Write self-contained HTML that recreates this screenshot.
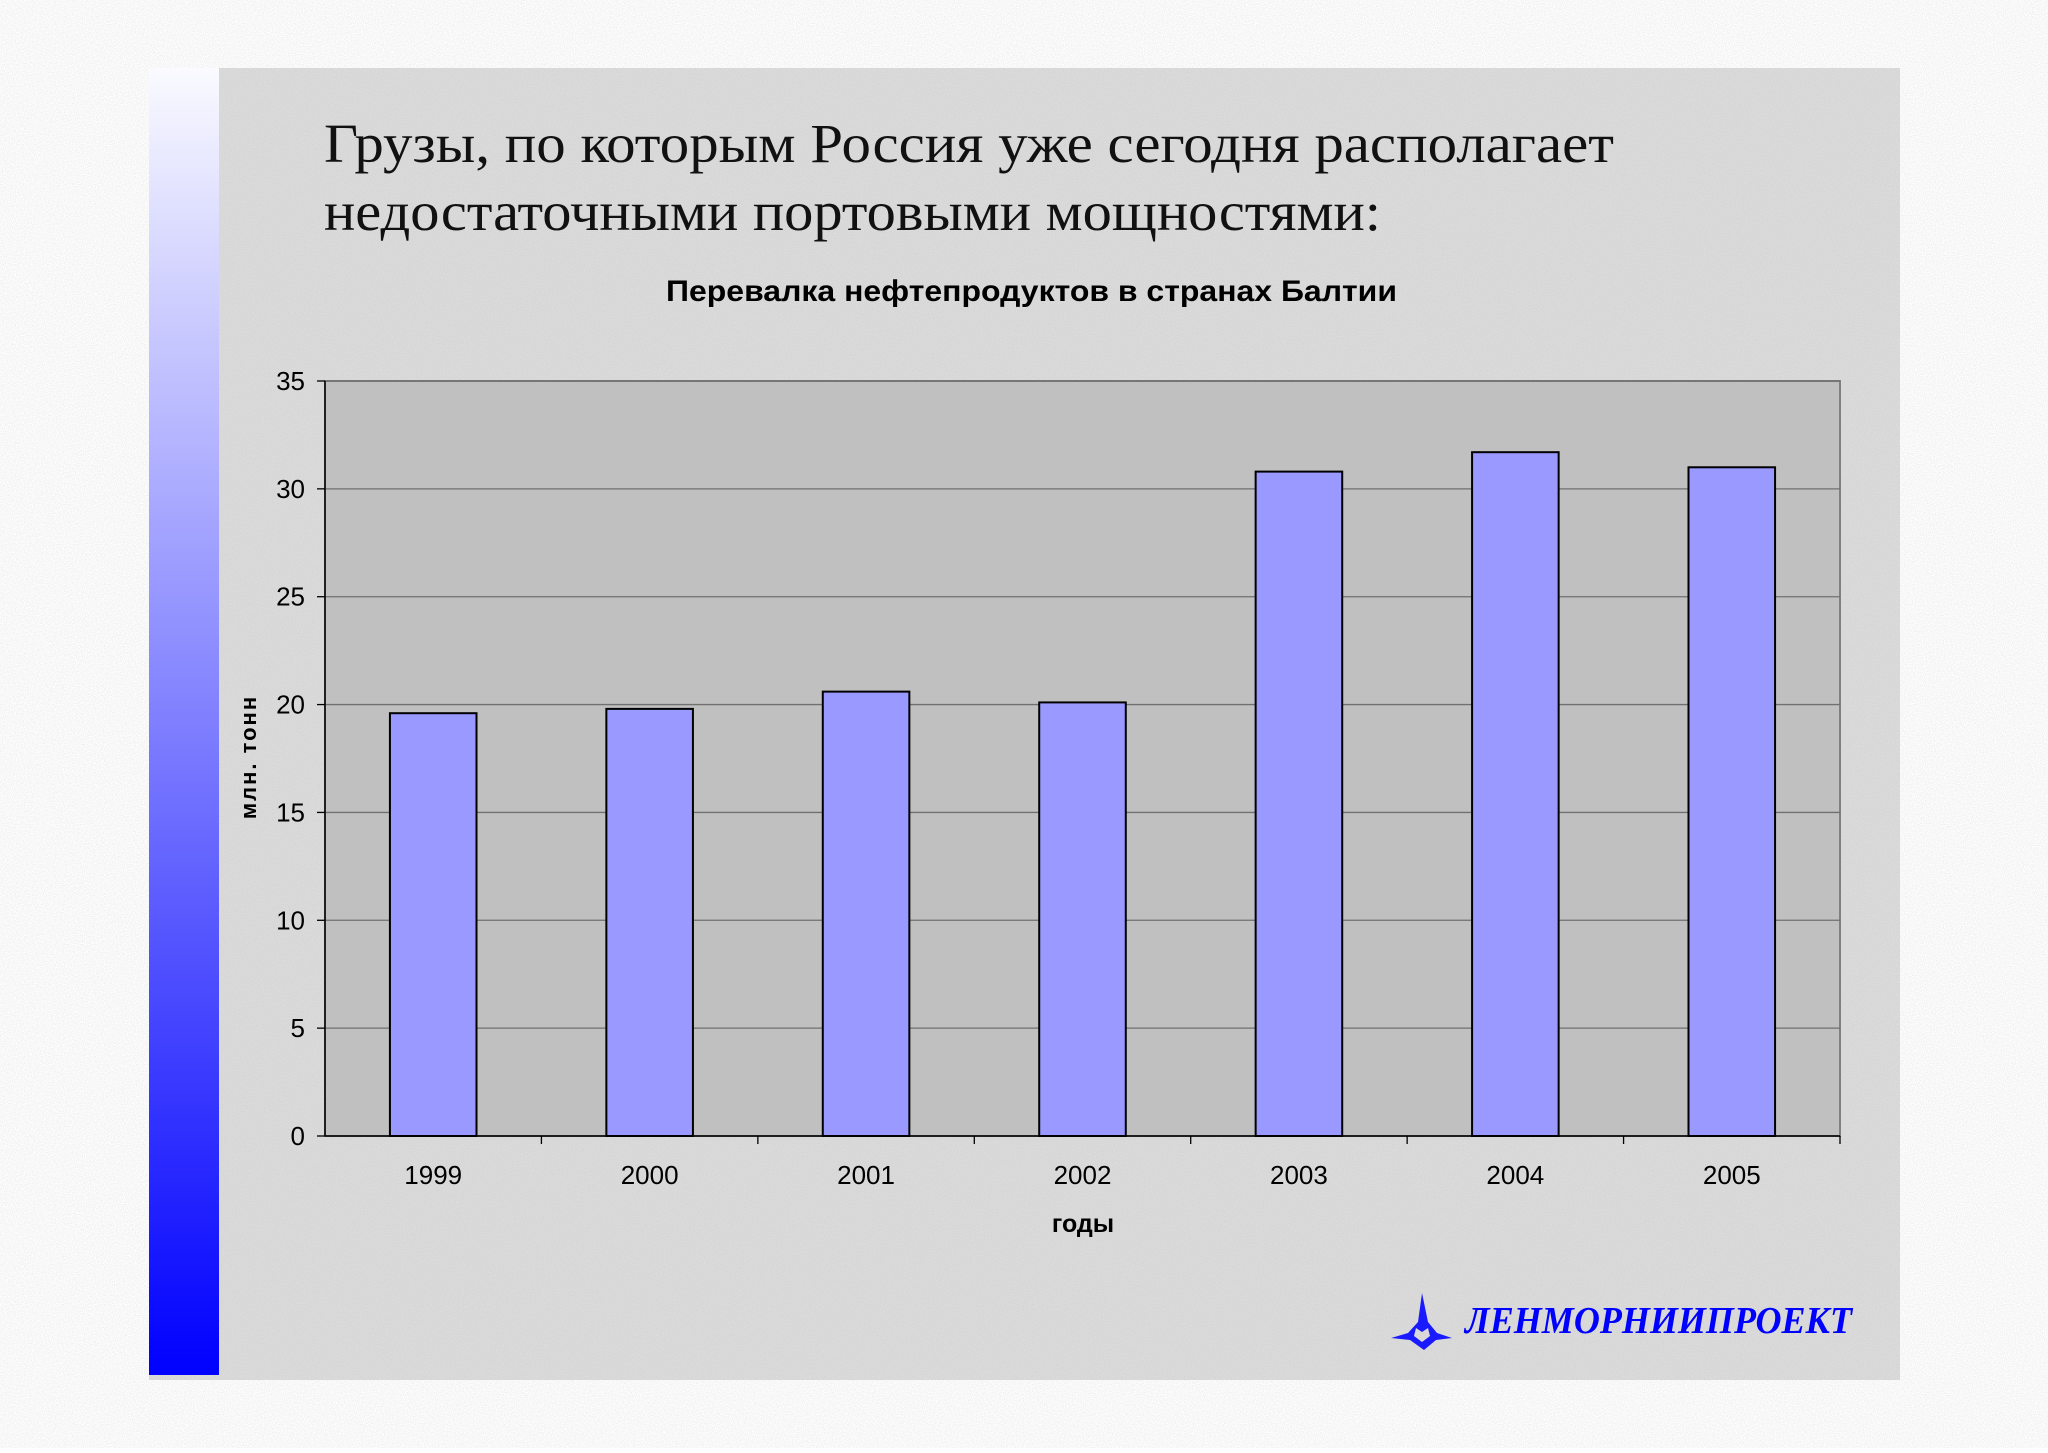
<!DOCTYPE html>
<html><head><meta charset="utf-8"><style>
body{margin:0;width:2048px;height:1448px;background:#fff;overflow:hidden;font-family:"Liberation Sans",sans-serif}
</style></head><body>
<svg width="2048" height="1448" xmlns="http://www.w3.org/2000/svg">
<defs>
<linearGradient id="lg" x1="0" y1="0" x2="0" y2="1"><stop offset="0" stop-color="#fafaff"/><stop offset="0.5" stop-color="#7f7fff"/><stop offset="1" stop-color="#0000ff"/></linearGradient>
<filter id="noise"><feTurbulence type="fractalNoise" baseFrequency="0.9" numOctaves="2" seed="3"/><feColorMatrix type="matrix" values="0 0 0 0 0.5 0 0 0 0 0.5 0 0 0 0 0.5 0 0 0 -1.6 1.1"/></filter>
</defs>
<rect x="149" y="68" width="1751" height="1312" fill="#dcdcdc"/>
<rect x="149" y="68" width="1751" height="1312" filter="url(#noise)" opacity="0.35"/>
<rect x="149" y="68" width="70" height="1307" fill="url(#lg)"/>
<text x="324" y="162" textLength="1290" lengthAdjust="spacingAndGlyphs" font-family="'Liberation Serif',serif" font-size="55" fill="#111">Грузы, по которым Россия уже сегодня располагает</text>
<text x="324" y="230" textLength="1057" lengthAdjust="spacingAndGlyphs" font-family="'Liberation Serif',serif" font-size="55" fill="#111">недостаточными портовыми мощностями:</text>
<text x="666" y="301" textLength="731" lengthAdjust="spacingAndGlyphs" font-size="30" font-weight="bold" fill="#000">Перевалка нефтепродуктов в странах Балтии</text>
<g id="chart"></g>
<text transform="translate(256,757) rotate(-90)" text-anchor="middle" font-size="22" font-weight="bold" letter-spacing="2">млн. тонн</text>
<text x="1083" y="1232" text-anchor="middle" font-size="25" font-weight="bold">годы</text>
<g>
<path d="M1422 1293 L1428 1322 L1437 1333 L1452 1338 L1436 1340 L1424 1350 L1410 1340 L1391 1338 L1408 1333 L1418 1322 Z M1416 1328 L1422 1332 L1428 1328 L1430 1336 L1422 1342 L1414 1336Z" fill="#1a1aff" fill-rule="evenodd"/>
<text x="1465" y="1333" textLength="387" lengthAdjust="spacingAndGlyphs" font-family="'Liberation Serif',serif" font-style="italic" font-weight="bold" font-size="38" fill="#0000ff">ЛЕНМОРНИИПРОЕКТ</text>
</g>
</svg>
<script>
const categories=["1999","2000","2001","2002","2003","2004","2005"];
const values=[19.6,19.8,20.6,20.1,30.8,31.7,31.0];
const yTicks=[0,5,10,15,20,25,30,35];
const NS="http://www.w3.org/2000/svg";
const L=325,R=1840,T=381,B=1136,yMax=35;
const y=v=>B-(v/yMax)*(B-T);
const bw=(R-L)/categories.length;
const x=i=>L+bw*i;
const g=document.getElementById('chart');
function mk(t,a){const e=document.createElementNS(NS,t);for(const k in a)e.setAttribute(k,a[k]);g.appendChild(e);return e;}
const pa=mk('rect',{x:L,y:T,width:R-L,height:B-T,fill:'#c0c0c0',stroke:'#808080','stroke-width':2});


yTicks.forEach(t=>{
 const ln=mk('line',{x1:L,x2:R,y1:y(t),y2:y(t),stroke:'#707070','stroke-width':1.3});
 
 
 const tk=mk('line',{x1:L-8,x2:L,y1:y(t),y2:y(t),stroke:'#000','stroke-width':1.3});
 
 
 const tx=mk('text',{x:L-20,y:y(t)+9,'text-anchor':'end','font-size':26,fill:'#000'});
 tx.textContent=t;
 
 
});
mk('line',{x1:L,x2:L,y1:T,y2:B,stroke:'#000','stroke-width':1.5});
mk('line',{x1:L,x2:R,y1:B,y2:B,stroke:'#000','stroke-width':1.5});
categories.forEach((c,i)=>{
 const w=bw*0.4;
 const b=mk('rect',{x:x(i)+(bw-w)/2,y:y(values[i]),width:w,height:B-y(values[i]),fill:'#9999ff',stroke:'#000','stroke-width':2});
 
 
 const tk=mk('line',{x1:x(i+1),x2:x(i+1),y1:B,y2:B+8,stroke:'#000','stroke-width':1.3});
 
 
 const tx=mk('text',{x:x(i)+bw/2,y:1184,'text-anchor':'middle','font-size':26,fill:'#000'});
 tx.textContent=c;
 
 
});
</script>
</body></html>
